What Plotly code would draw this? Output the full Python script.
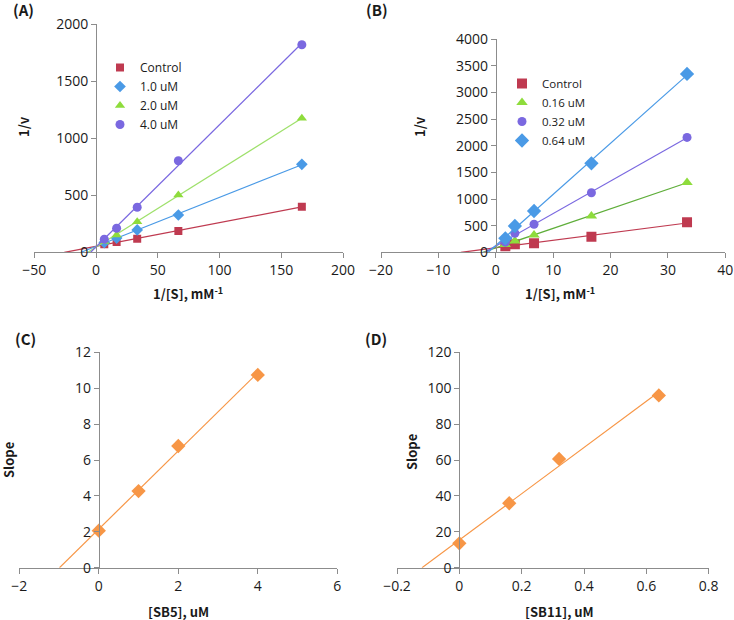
import numpy as np
import plotly.graph_objects as go

# (A) Lineweaver-Burk, SB5
inv_s_a = [6.67, 16.67, 33.33, 66.67, 166.67]
a_control = [70, 90, 119, 187, 400]
a_1_0 = [85, 125, 196, 327, 772]
a_2_0 = [95, 152, 268, 503, 1175]
a_4_0 = [114, 211, 395, 803, 1821]

# (B) Lineweaver-Burk, SB11
inv_s_b = [1.67, 3.33, 6.67, 16.67, 33.33]
b_control = [112, 150, 169, 293, 563]
b_0_16 = [145, 212, 325, 682, 1312]
b_0_32 = [190, 357, 526, 1119, 2157]
b_0_64 = [263, 494, 776, 1671, 3349]

# (C) secondary plot SB5
sb5 = [0, 1, 2, 4]
slope_c = [2.06, 4.27, 6.78, 10.74]

# (D) secondary plot SB11
sb11 = [0, 0.16, 0.32, 0.64]
slope_d = [13.6, 35.9, 60.6, 96.0]

RED = "#BF3A50"
BLUE = "#4A9AE6"
GREEN = "#8EDC3C"
PURPLE = "#7A68E0"
ORANGE = "#F79646"
AXIS = "#8C8C8C"

W, H = 734, 620


def px_x(x):
    return x / W


def px_y(y):
    return 1 - y / H


# plot areas in pixels: (left, right, top, bottom) and data ranges
panels = {
    "A": dict(box=(34.3, 343, 24.3, 252.3), xr=[-50, 200], yr=[0, 2000], dx=50, dy=500),
    "B": dict(box=(381, 725.3, 39.3, 252.3), xr=[-20, 40], yr=[0, 4000], dx=10, dy=500),
    "C": dict(box=(19.3, 337.3, 352.3, 567.7), xr=[-2, 6], yr=[0, 12], dx=2, dy=2),
    "D": dict(box=(397, 708.7, 352.3, 567.7), xr=[-0.2, 0.8], yr=[0, 120], dx=0.2, dy=20),
}

fig = go.Figure()
layout = {}
tickfont = dict(family="Open Sans", size=14, color="#1a1a1a")

for i, (key, p) in enumerate(panels.items(), start=1):
    l, r, t, b = p["box"]
    xd = [px_x(l), px_x(r)]
    yd = [px_y(b), px_y(t)]
    sfx = "" if i == 1 else str(i)
    pos = xd[0] + (0 - p["xr"][0]) / (p["xr"][1] - p["xr"][0]) * (xd[1] - xd[0])
    layout["xaxis" + sfx] = dict(
        domain=xd, range=p["xr"], dtick=p["dx"], anchor="y" + sfx, automargin=False,
        showgrid=False, zeroline=False, showline=True, linecolor=AXIS, linewidth=1,
        ticks="outside", ticklen=5, tickcolor=AXIS, tickfont=tickfont,
    )
    layout["yaxis" + sfx] = dict(
        domain=yd, range=p["yr"], dtick=p["dy"], anchor="free", position=pos,
        automargin=False,
        showgrid=False, zeroline=False, showline=True, linecolor=AXIS, linewidth=1,
        ticks="outside", ticklen=5, tickcolor=AXIS, tickfont=tickfont,
    )


def add_series(x, y, name, color, line_color, symbol, size, axis, legend):
    x = np.array(x, dtype=float)
    y = np.array(y, dtype=float)
    m, c = np.polyfit(x, y, 1)
    x0 = -c / m
    fig.add_trace(go.Scatter(
        x=[x0, x.max()], y=[0, m * x.max() + c], mode="lines",
        line=dict(color=line_color, width=1.2), showlegend=False,
        xaxis="x" + axis, yaxis="y" + axis, hoverinfo="skip",
    ))
    fig.add_trace(go.Scatter(
        x=x, y=y, mode="markers", name=name,
        marker=dict(symbol=symbol, size=size, color=color),
        xaxis="x" + axis, yaxis="y" + axis,
        showlegend=name is not None, legend=legend,
    ))


add_series(inv_s_a, a_control, "Control", RED, RED, "square", 8, "", "legend")
add_series(inv_s_a, a_1_0, "1.0 uM", BLUE, BLUE, "diamond", 9, "", "legend")
add_series(inv_s_a, a_2_0, "2.0 uM", GREEN, "#9EE06A", "triangle-up", 9, "", "legend")
add_series(inv_s_a, a_4_0, "4.0 uM", PURPLE, PURPLE, "circle", 9, "", "legend")

add_series(inv_s_b, b_control, "Control", RED, RED, "square", 10, "2", "legend2")
add_series(inv_s_b, b_0_16, "0.16 uM", GREEN, "#5FAE3A", "triangle-up", 10, "2", "legend2")
add_series(inv_s_b, b_0_32, "0.32 uM", PURPLE, PURPLE, "circle", 9, "2", "legend2")
add_series(inv_s_b, b_0_64, "0.64 uM", BLUE, BLUE, "diamond", 11, "2", "legend2")

add_series(sb5, slope_c, None, ORANGE, ORANGE, "diamond", 11, "3", "legend")
add_series(sb11, slope_d, None, ORANGE, ORANGE, "diamond", 11, "4", "legend")

layout["legend"] = dict(
    x=px_x(100), y=px_y(53), xanchor="left", yanchor="top",
    font=dict(family="Open Sans", size=12, color="#1a1a1a"),
    bgcolor="rgba(0,0,0,0)", tracegroupgap=0, itemwidth=30,
)
layout["legend2"] = dict(
    x=px_x(502), y=px_y(69), xanchor="left", yanchor="top",
    font=dict(family="Open Sans", size=11.5, color="#1a1a1a"),
    bgcolor="rgba(0,0,0,0)", tracegroupgap=0, itemwidth=30,
)

titlefont = dict(family="Noto Sans CJK KR", size=13, color="#1a1a1a")
annots = [
    ("<b>(A)</b>", 24, 9, 0),
    ("<b>(B)</b>", 377, 9, 0),
    ("<b>(C)</b>", 25, 338, 0),
    ("<b>(D)</b>", 376, 338, 0),
    ("<b>1/v</b>", 23, 127, -90),
    ("<b>1/v</b>", 419, 127, -90),
    ("<b>Slope</b>", 8, 460, -90),
    ("<b>Slope</b>", 411, 452, -90),
    ("<b>1/[S], mM<sup>-1</sup></b>", 188, 293, 0),
    ("<b>1/[S], mM<sup>-1</sup></b>", 560, 293, 0),
    ("<b>[SB5], uM</b>", 178, 611, 0),
    ("<b>[SB11], uM</b>", 559, 611, 0),
]
layout["annotations"] = [
    dict(text=txt, x=px_x(x), y=px_y(y), xref="paper", yref="paper",
         showarrow=False, textangle=ang, xanchor="center", yanchor="middle",
         font=dict(titlefont, size=15) if txt.startswith("<b>(") else titlefont)
    for txt, x, y, ang in annots
]

fig.update_layout(
    width=W, height=H, margin=dict(l=0, r=0, t=0, b=0),
    plot_bgcolor="white", paper_bgcolor="white", **layout,
)

# page body has a default 8px margin; drop it so the figure fills the window
fig.write_html("out.html", config={"displayModeBar": False},
               post_script="document.body.style.margin='0';")
